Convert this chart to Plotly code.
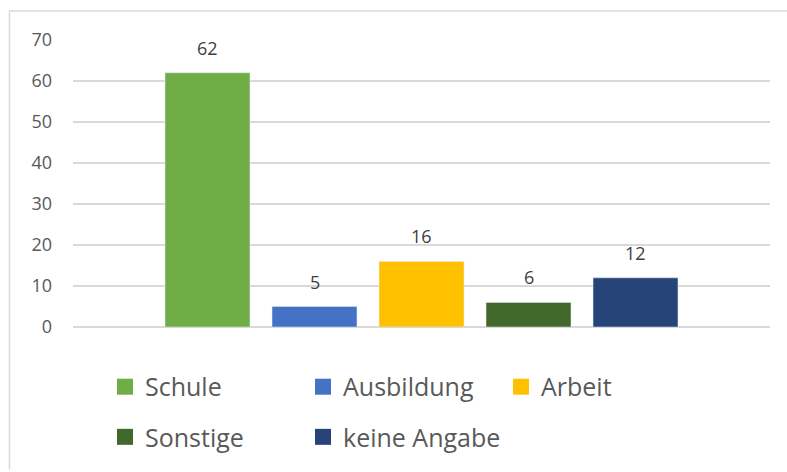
import plotly.graph_objects as go

categories = ["Schule", "Ausbildung", "Arbeit", "Sonstige", "keine Angabe"]
values = [62, 5, 16, 6, 12]
colors = ["#70AD47", "#4472C4", "#FFC000", "#43682B", "#264478"]
legend_rows = ["legend", "legend", "legend", "legend2", "legend2"]
y_ticks = [0, 10, 20, 30, 40, 50, 60, 70]

W, H = 787, 472
L, R, T, B = 73, 17, 40, 140
pw, ph = W - L - R, H - T - B

fig = go.Figure()
for cat, val, col in zip(categories, values, colors):
    fig.add_trace(go.Bar(x=[cat], y=[val], marker_color=col, width=0.794,
                         showlegend=False, hoverinfo="skip"))
for cat, col, lg in zip(categories, colors, legend_rows):
    fig.add_trace(go.Scatter(x=[None], y=[None], mode="markers", name=cat,
                             marker=dict(symbol="square", size=16, color=col),
                             legend=lg, showlegend=True))

for cat, val in zip(categories, values):
    fig.add_annotation(x=cat, y=val, text=str(val), showarrow=False,
                       yanchor="middle", yshift=25,
                       font=dict(family="Open Sans", size=18, color="#404040"))

def px_to_paper_x(p):
    return (p - L) / pw

def px_to_paper_y(p):
    return (H - B - p) / ph

fig.add_shape(type="line", xref="paper", yref="paper",
              x0=px_to_paper_x(9), x1=px_to_paper_x(W + 5),
              y0=px_to_paper_y(10.5), y1=px_to_paper_y(10.5),
              line=dict(color="#d9d9d9", width=1.5))
fig.add_shape(type="line", xref="paper", yref="paper",
              x0=px_to_paper_x(9.5), x1=px_to_paper_x(9.5),
              y0=px_to_paper_y(10.5), y1=px_to_paper_y(H + 5),
              line=dict(color="#d9d9d9", width=1.5))

legend_common = dict(orientation="h", xanchor="left", yanchor="middle",
                     entrywidth=153, entrywidthmode="pixels",
                     font=dict(family="Open Sans", size=25, color="#595959"),
                     bgcolor="rgba(0,0,0,0)", borderwidth=0)

fig.update_layout(
    width=W, height=H,
    margin=dict(l=L, r=R, t=T, b=B),
    paper_bgcolor="white", plot_bgcolor="white",
    barmode="overlay",
    xaxis=dict(type="category", categoryorder="array", categoryarray=categories,
               range=[-1.257, 5.257], showticklabels=False, showgrid=False,
               zeroline=False, showline=False, ticks=""),
    yaxis=dict(range=[0, 70], tickvals=y_ticks, showgrid=True,
               gridcolor="#d9d9d9", gridwidth=1.5, zeroline=True,
               zerolinecolor="#d9d9d9", zerolinewidth=1.5, showline=False,
               ticks="", ticklabelstandoff=20,
               tickfont=dict(family="Open Sans", size=18, color="#595959")),
    legend=dict(x=px_to_paper_x(105), y=px_to_paper_y(393), **legend_common),
    legend2=dict(x=px_to_paper_x(105), y=px_to_paper_y(444), **legend_common),
)

fig.write_html("out.html", config={"displayModeBar": False},
               post_script="document.body.style.margin='0';document.body.style.overflow='hidden';")
